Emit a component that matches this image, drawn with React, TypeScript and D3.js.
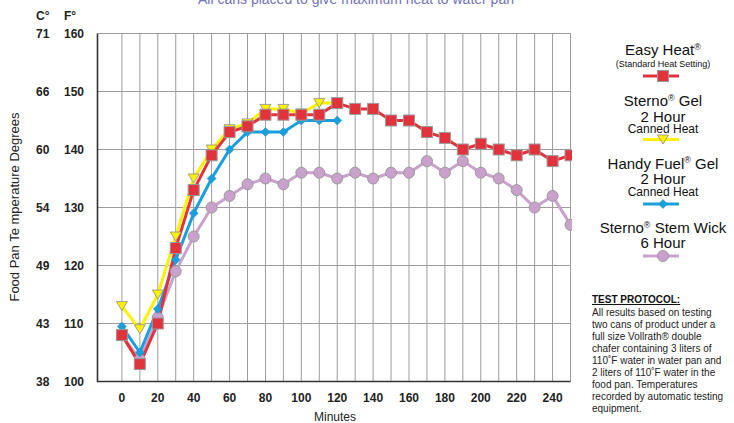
import React from "react";
import * as d3 from "d3";

const minutes = [0, 10, 20, 30, 40, 50, 60, 70, 80, 90, 100, 110, 120, 130, 140, 150, 160, 170, 180, 190, 200, 210, 220, 230, 240, 250];
const easyHeat = [108, 103, 110, 123, 133, 139, 143, 144, 146, 146, 146, 146, 148, 147, 147, 145, 145, 143, 142, 140, 141, 140, 139, 140, 138, 139];
const sternoGel = [113, 109, 115, 125, 135, 140, 143.5, 144.5, 147, 147, 146.2, 148, 148];
const handyFuel = [109.5, 105, 112.5, 121, 129, 135, 140, 143, 143, 143, 145, 145, 145];
const sternoWick = [108, 103.8, 111, 119, 125, 130, 132, 134, 135, 134, 136, 136, 135, 136, 135, 136, 136, 138, 136, 138, 136, 135, 133, 130, 132, 127];

const fTicks = [100, 110, 120, 130, 140, 150, 160];
const cTicks = ["38", "43", "49", "54", "60", "66", "71"];
const xTicks = [0, 20, 40, 60, 80, 100, 120, 140, 160, 180, 200, 220, 240];
const protocolLines = [
  "All results based on testing",
  "two cans of product under a",
  "full size Vollrath\u00AE double",
  "chafer containing 3 liters of",
  "110\u02DAF water in water pan and",
  "2 liters of 110\u02DAF water in the",
  "food pan.  Temperatures",
  "recorded by automatic testing",
  "equipment.",
];

const FONT = "'Liberation Sans', Arial, Helvetica, sans-serif";
const RED = "#e2323c";
const YELLOW = "#fff200";
const BLUE = "#1a9fdb";
const PURPLE = "#c9a1cc";

export default function App() {
  const x = d3.scaleLinear().domain([-13.6, 250]).range([97.5, 570.5]);
  const y = d3.scaleLinear().domain([100, 160]).range([381.5, 33.5]);
  const line = d3
    .line<[number, number]>()
    .x((d) => x(d[0]))
    .y((d) => y(d[1]));
  const pts = (vals: number[]) => vals.map((v, i) => [minutes[i], v] as [number, number]);

  const gridX = d3.range(0, 251, 10);
  const gridY = fTicks.slice(1);

  const square = (cx: number, cy: number, k: string) => (
    <rect key={k} x={cx - 5.5} y={cy - 5.5} width={11} height={11} fill={RED} stroke="#9a9a9a" strokeWidth={1} />
  );
  const tri = (cx: number, cy: number, k: string) => (
    <path key={k} d={`M${cx - 5.5},${cy - 4.5}L${cx + 5.5},${cy - 4.5}L${cx},${cy + 4.5}Z`} fill={YELLOW} stroke="#8a8a8a" strokeWidth={0.8} />
  );
  const diamond = (cx: number, cy: number, k: string) => (
    <path key={k} d={`M${cx},${cy - 4.5}L${cx + 4.5},${cy}L${cx},${cy + 4.5}L${cx - 4.5},${cy}Z`} fill={BLUE} stroke="#2b8cc0" strokeWidth={0.5} />
  );
  const circle = (cx: number, cy: number, k: string) => (
    <circle key={k} cx={cx} cy={cy} r={5.5} fill={PURPLE} stroke="#9a9a9a" strokeWidth={1} />
  );

  const series = [
    { vals: sternoWick, color: PURPLE, marker: circle },
    { vals: handyFuel, color: BLUE, marker: diamond },
    { vals: sternoGel, color: YELLOW, marker: tri },
    { vals: easyHeat, color: RED, marker: square },
  ];

  const legendX = 663;
  const withReg = (a: string, b: string) => (
    <>
      {a}
      <tspan fontSize={9} dy={-5.5}>{"\u00AE"}</tspan>
      <tspan dy={5.5}>{b}</tspan>
    </>
  );

  return (
    <div style={{ position: "fixed", left: 0, top: 0, width: 734, height: 423, background: "#fff" }}>
      <svg width={734} height={423} style={{ display: "block", fontFamily: FONT }}>
        <defs>
          <clipPath id="plotclip">
            <rect x={90} y={20} width={482} height={380} />
          </clipPath>
        </defs>
        <rect width={734} height={423} fill="#fff" />
        <text x={356} y={4} textAnchor="middle" fontSize={14} fill="#7272b8">
          All cans placed to give maximum heat to water pan
        </text>

        {/* grid */}
        {gridX.map((m) => (
          <line key={"gx" + m} x1={x(m)} x2={x(m)} y1={y(160)} y2={y(100)} stroke="#9c9c9c" strokeWidth={1} />
        ))}
        {gridY.map((f) => (
          <line key={"gy" + f} x1={x(-13.6)} x2={x(250)} y1={y(f)} y2={y(f)} stroke="#9c9c9c" strokeWidth={1} />
        ))}
        <line x1={x(-13.6)} x2={x(-13.6)} y1={y(160)} y2={y(100) + 0.8} stroke="#333" strokeWidth={1.6} />
        <line x1={x(-13.6)} x2={x(250)} y1={y(100)} y2={y(100)} stroke="#333" strokeWidth={1.6} />

        {/* series */}
        <g clipPath="url(#plotclip)">
          {series.map((s, si) => (
            <path key={"s" + si} d={line(pts(s.vals)) || ""} fill="none" stroke={s.color} strokeWidth={3} strokeLinejoin="round" />
          ))}
          {series.map((s, si) => (
            <g key={"m" + si}>{pts(s.vals).map((p, i) => s.marker(x(p[0]), y(p[1]), si + "-" + i))}</g>
          ))}
        </g>

        {/* y axis labels */}
        <text x={36} y={20} fontSize={12} fontWeight="bold" fill="#222">C°</text>
        <text x={64} y={20} fontSize={12} fontWeight="bold" fill="#222">F°</text>
        {fTicks.map((f, i) => (
          <g key={"yl" + f}>
            <text x={36} y={y(f) + 4.3} fontSize={12} fontWeight="bold" fill="#222">{cTicks[i]}</text>
            <text x={64} y={y(f) + 4.3} fontSize={12} fontWeight="bold" fill="#222">{f}</text>
          </g>
        ))}
        <text transform="translate(19,207) rotate(-90)" textAnchor="middle" fontSize={13} fill="#222">
          Food Pan Te mperature Degrees
        </text>

        {/* x axis labels */}
        {xTicks.map((m) => (
          <text key={"xl" + m} x={x(m)} y={402} textAnchor="middle" fontSize={12} fontWeight="bold" fill="#222">{m}</text>
        ))}
        <text x={335} y={421} textAnchor="middle" fontSize={12} fill="#222">Minutes</text>

        {/* legend */}
        <g fill="#111" textAnchor="middle">
          <text x={legendX} y={55} fontSize={15}>{withReg("Easy Heat", "")}</text>
          <text x={legendX} y={66.5} fontSize={9}>(Standard Heat Setting)</text>
          <line x1={643} x2={679} y1={76} y2={76} stroke={RED} strokeWidth={3} />
          {square(legendX, 76, "lg1")}

          <text x={legendX} y={106} fontSize={15}>{withReg("Sterno", " Gel")}</text>
          <text x={legendX} y={121.5} fontSize={15}>2 Hour</text>
          <text x={legendX} y={132.5} fontSize={12}>Canned Heat</text>
          <line x1={643} x2={679} y1={139.5} y2={139.5} stroke={YELLOW} strokeWidth={3} />
          {tri(legendX, 139.5, "lg2")}

          <text x={legendX} y={168.5} fontSize={15}>{withReg("Handy Fuel", " Gel")}</text>
          <text x={legendX} y={183.5} fontSize={15}>2 Hour</text>
          <text x={legendX} y={196} fontSize={12}>Canned Heat</text>
          <line x1={643} x2={679} y1={204} y2={204} stroke={BLUE} strokeWidth={3} />
          {diamond(legendX, 204, "lg3")}

          <text x={legendX} y={233} fontSize={15}>{withReg("Sterno", " Stem Wick")}</text>
          <text x={legendX} y={247.5} fontSize={15}>6 Hour</text>
          <line x1={643} x2={679} y1={256} y2={256} stroke={PURPLE} strokeWidth={3} />
          {circle(legendX, 256, "lg4")}
        </g>

        {/* test protocol */}
        <text x={592} y={303} fontSize={10} fontWeight="bold" fill="#111" textDecoration="underline">TEST PROTOCOL:</text>
        {protocolLines.map((t, i) => (
          <text key={"pl" + i} x={592} y={315.5 + i * 12} fontSize={10} fill="#222">{t}</text>
        ))}
      </svg>
    </div>
  );
}
